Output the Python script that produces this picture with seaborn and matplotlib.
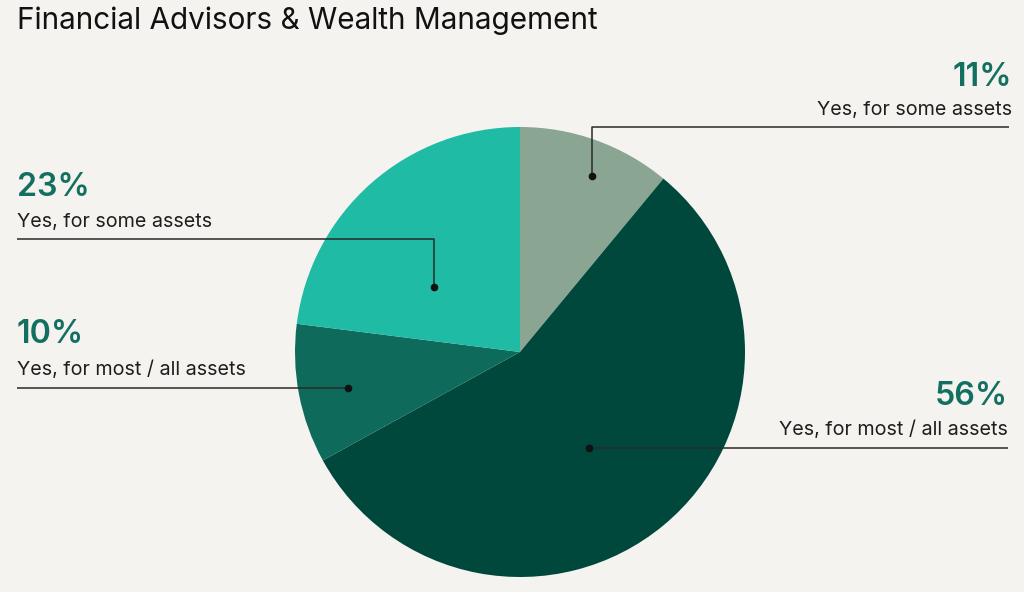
import numpy as np
import matplotlib
matplotlib.use("Agg")
import matplotlib.pyplot as plt
import seaborn as sns

# data, clockwise from 12 o'clock
labels = ["Yes, for some assets", "Yes, for most / all assets",
          "Yes, for most / all assets", "Yes, for some assets"]
values = [11, 56, 10, 23]
colors = ["#8aa592", "#00473c", "#0e6a5a", "#1fbba5"]

sns.set_style("white")
plt.rcParams["font.family"] = ["Inter", "DejaVu Sans"]

BG = "#f5f3ef"
W, H = 1024, 592

fig = plt.figure(figsize=(W / 100, H / 100), dpi=100, facecolor=BG)
ax = fig.add_axes([0, 0, 1, 1])
ax.set_aspect("equal")
ax.set_facecolor(BG)

cx, cy, R = 520, H - 352, 225
ax.pie(values, colors=colors, startangle=90, counterclock=False,
       center=(cx, cy), radius=R, frame=True,
       wedgeprops={"linewidth": 0})
ax.set_xlim(0, W)
ax.set_ylim(0, H)
ax.axis("off")

# where inside each wedge the leader dot sits (fraction of span, fraction of radius)
dot_pos = [(0.56, 0.845), (0.52, 0.53), (0.47, 0.78), (0.36, 0.48)]

fracs = np.array(values) / sum(values)
cum = np.concatenate([[0], np.cumsum(fracs)])
dots = []
for i, (t, r) in enumerate(dot_pos):
    ang = np.deg2rad(90 - 360 * (cum[i] + t * fracs[i]))
    dots.append((cx + r * R * np.cos(ang), cy + r * R * np.sin(ang)))

# label layout: (text x, align, pct baseline, label baseline, line y, line end x)
layout = [
    (1012, "right", 86, 115, 127, 1009),
    (1008, "right", 405, 435, 448, 1008),
    (17, "left", 343, 375, 388, 17),
    (17, "left", 196, 227, 239, 17),
]

line_kw = dict(color="#2a2a2a", lw=1.1, solid_capstyle="butt", zorder=5)
for i, (tx, ha, pb, lb, ly, lx) in enumerate(layout):
    ax.text(tx, H - pb, f"{values[i]}%", ha=ha, va="baseline",
            fontsize=23.2, fontweight="semibold", color="#137060")
    ax.text(tx, H - lb, labels[i], ha=ha, va="baseline",
            fontsize=14.2, color="#1e1e1e")
    dx, dy = dots[i]
    yl = H - ly
    if abs(dy - yl) > 2:
        ax.plot([dx, dx, lx], [dy, yl, yl], **line_kw)
    else:
        ax.plot([dx, lx], [yl, yl], **line_kw)
        dy = yl
    ax.plot(dx, dy, "o", color="#111111", ms=4.5, zorder=6)

ax.text(17, H - 29, "Financial Advisors & Wealth Management", ha="left",
        va="baseline", fontsize=21.4, color="#111111")

fig.savefig("out.png", dpi=100, facecolor=BG)
